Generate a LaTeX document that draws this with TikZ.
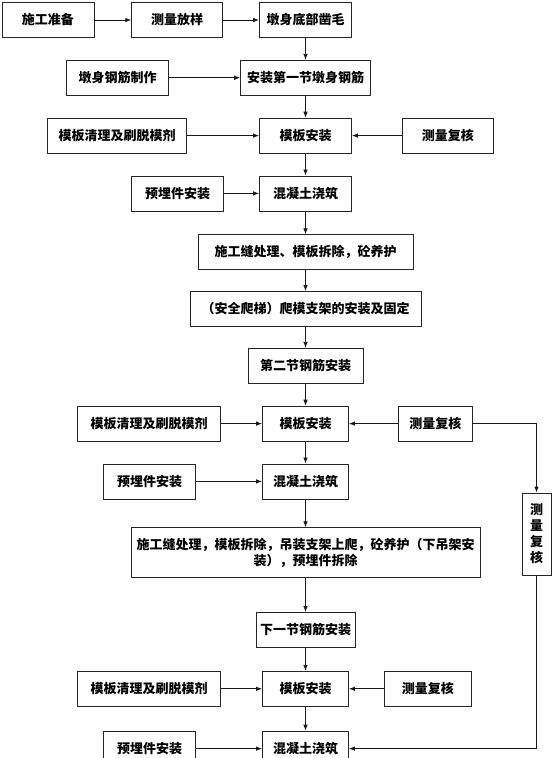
\documentclass[tikz,border=0pt]{standalone}
\usepackage{fontspec}
\setmainfont{Noto Sans CJK SC}
\usepackage{tikz}
\usetikzlibrary{positioning,arrows.meta}
\def\RowGap{22pt}
\tikzset{
	box/.style={draw=black!85,line width=0.8pt,minimum height=35pt,inner sep=2pt,font=\fontsize{13pt}{16pt}\selectfont\bfseries},
	flow/.style={draw=black!90,line width=0.8pt,-{Latex[length=6pt,width=4.5pt]}},
}

\begin{document}
\begin{tikzpicture}[x=1pt,y=1pt]
	\useasboundingbox (0,0) rectangle (553,-758);
	% 
	\node[box,minimum width=92pt] (zm) at (305.5,-20) {墩身底部凿毛};
	\node[box,minimum width=91pt,left=36pt of zm] (cl) {测量放样};
	\node[box,minimum width=92pt,left=37pt of cl] (sg) {施工准备};
	% 
	\node[box,minimum width=130pt,below=\RowGap of zm] (az) {安装第一节墩身钢筋};
	\node[box,minimum width=102pt,left=71pt of az] (gz) {墩身钢筋制作};
	% 
	\node[box,minimum width=92pt,below=\RowGap of az] (mb) {模板安装};
	\node[box,minimum width=139pt,left=72pt of mb] (mq) {模板清理及刷脱模剂};
	\node[box,minimum width=91pt,right=50pt of mb] (fc) {测量复核};
	% 
	\node[box,minimum width=92pt,below=\RowGap of mb] (hn) {混凝土浇筑};
	\node[box,minimum width=92pt,left=35pt of hn] (yq) {预埋件安装};
	% 
	\node[box,minimum width=215pt,below=23pt of hn] (cy) {施工缝处理、模板拆除，砼养护};
	\node[box,minimum width=231pt,below=21pt of cy] (pm) {（安全爬梯）爬模支架的安装及固定};
	\node[box,minimum width=115pt,below=21pt of pm] (ej) {第二节钢筋安装};
	% 
	\node[box,minimum width=86pt,below=\RowGap of ej] (mbb) {模板安装};
	\node[box,minimum width=143pt,left=41pt of mbb] (mqb) {模板清理及刷脱模剂};
	\node[box,minimum width=74pt,right=49pt of mbb] (fcb) {测量复核};
	% 
	\node[box,minimum width=86pt,below=\RowGap of mbb] (hnb) {混凝土浇筑};
	\node[box,minimum width=92pt,left=66pt of hnb] (yqb) {预埋件安装};
	% 
	\node[box,minimum width=349pt,minimum height=50pt,align=center,below=28pt of hnb] (cyb) {施工缝处理，模板拆除，吊装支架上爬，砼养护（下吊架安\\装），预埋件拆除};
	\node[box,minimum width=99pt,below=34pt of cyb] (xj) {下一节钢筋安装};
	% 
	\node[box,minimum width=86pt,below=23pt of xj] (mbc) {模板安装};
	\node[box,minimum width=143pt,left=41pt of mbc] (mqc) {模板清理及刷脱模剂};
	\node[box,minimum width=87pt,right=35pt of mbc] (fcc) {测量复核};
	% 
	\node[box,minimum width=86pt,below=24pt of mbc] (hnc) {混凝土浇筑};
	\node[box,minimum width=92pt,left=66pt of hnc] (yqc) {预埋件安装};
	% 
	\node[box,minimum width=29pt,minimum height=82pt,align=center,inner sep=1pt] (fcv) at (536.5,-534) {测\\量\\复\\核};
	% 
	\draw[flow] (sg) -- (cl);
	\draw[flow] (cl) -- (zm);
	\draw[flow] (zm) -- (az);
	\draw[flow] (gz) -- (az);
	\draw[flow] (az) -- (mb);
	\draw[flow] (mq) -- (mb);
	\draw[flow] (fc) -- (mb);
	\draw[flow] (mb) -- (hn);
	\draw[flow] (yq) -- (hn);
	\draw[flow] (hn) -- (cy);
	\draw[flow] (cy) -- (pm);
	\draw[flow] (pm) -- (ej);
	\draw[flow] (ej) -- (mbb);
	\draw[flow] (mqb) -- (mbb);
	\draw[flow] (fcb) -- (mbb);
	\draw[flow] (mbb) -- (hnb);
	\draw[flow] (yqb) -- (hnb);
	\draw[flow] (hnb) -- (cyb);
	\draw[flow] (cyb) -- (xj);
	\draw[flow] (xj) -- (mbc);
	\draw[flow] (mqc) -- (mbc);
	\draw[flow] (fcc) -- (mbc);
	\draw[flow] (mbc) -- (hnc);
	\draw[flow] (yqc) -- (hnc);
	% 
	\draw[flow] (fcb.east) -| (fcv.north);
	\draw[flow] (fcv.south) |- (hnc.east);
\end{tikzpicture}
\end{document}
